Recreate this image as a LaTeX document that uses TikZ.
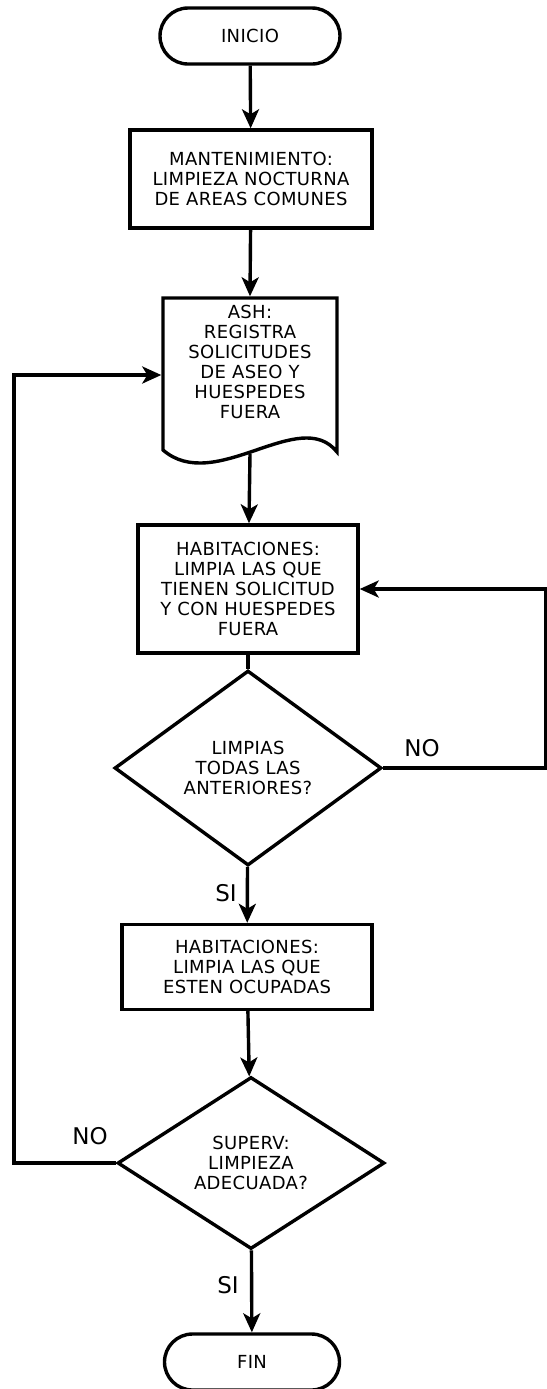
\documentclass[tikz,border=0pt]{standalone}
\usepackage{fontspec}
\setmainfont{DejaVu Sans}
\newfontfamily\boxfont{DejaVu Sans}[LetterSpace=2.0]
\usetikzlibrary{arrows.meta,shapes.geometric}
\begin{document}
\begin{tikzpicture}[x=0.5pt, y=-0.5pt, line width=1.7pt,
  every node/.style={font=\boxfont\fontsize{9}{10}\selectfont, align=center, inner sep=0pt},
  term/.style={draw, rounded corners=14pt, minimum width=#1, minimum height=28pt},
  proc/.style={draw, minimum width=#1},
  deci/.style={draw, diamond, minimum width=133.5pt},
  lbl/.style={font=\fontsize{11.5}{13}\selectfont},
  arr/.style={-{Stealth[length=9.5pt,width=8.5pt,inset=2.5pt]}}]
  \useasboundingbox (0,0) rectangle (547,1389);
  \node[term=90pt] (inicio) at (250,36) {INICIO};
  \node[proc=121pt, minimum height=49pt] (mant) at (251,179) {MANTENIMIENTO:\\LIMPIEZA NOCTURNA\\DE AREAS COMUNES};
  \node[minimum width=87pt, minimum height=77pt] (ashbox) at (250,375) {};
  \draw (163,298) -- (337,298) -- (337,452) .. controls (300,405) and (215,495) .. (163,450) -- cycle;
  \node (ashtxt) at ([yshift=6.5pt]ashbox.center) {ASH:\\REGISTRA\\SOLICITUDES\\DE ASEO Y\\HUESPEDES\\FUERA};
  \node[proc=110pt, minimum height=64pt] (hab1) at (248,589) {HABITACIONES:\\LIMPIA LAS QUE\\TIENEN SOLICITUD\\Y CON HUESPEDES\\FUERA};
  \node[deci, minimum height=97.5pt] (lim) at (248,768) {LIMPIAS\\TODAS LAS\\ANTERIORES?};
  \node[proc=125pt, minimum height=42.5pt] (hab2) at (247,967) {HABITACIONES:\\LIMPIA LAS QUE\\ESTEN OCUPADAS};
  \node[deci, minimum height=86pt] (sup) at (251,1163) {SUPERV:\\LIMPIEZA\\ADECUADA?};
  \node[term=87.5pt] (fin) at (252,1362) {FIN};
  \coordinate (rgt) at (546,589);
  \coordinate (lft) at (14,375);
  \draw[arr] (inicio) -- (mant);
  \draw[arr] (mant) -- (ashbox.north);
  \draw[arr] (ashbox.south) -- (hab1);
  \draw (hab1) -- (lim);
  \draw[arr] (lim.east) -| (rgt) -- (hab1.east);
  \node[lbl] (no1) at (422,748) {NO};
  \draw[arr] (lim) -- (hab2);
  \node[lbl] (si1) at (226,893) {SI};
  \draw[arr] (hab2) -- (sup);
  \draw[arr] (sup.west) -| (lft) -- (ashbox.west);
  \node[lbl] (no2) at (90,1136) {NO};
  \draw[arr] (sup) -- (fin);
  \node[lbl] (si2) at (228,1285) {SI};
\end{tikzpicture}
\end{document}
